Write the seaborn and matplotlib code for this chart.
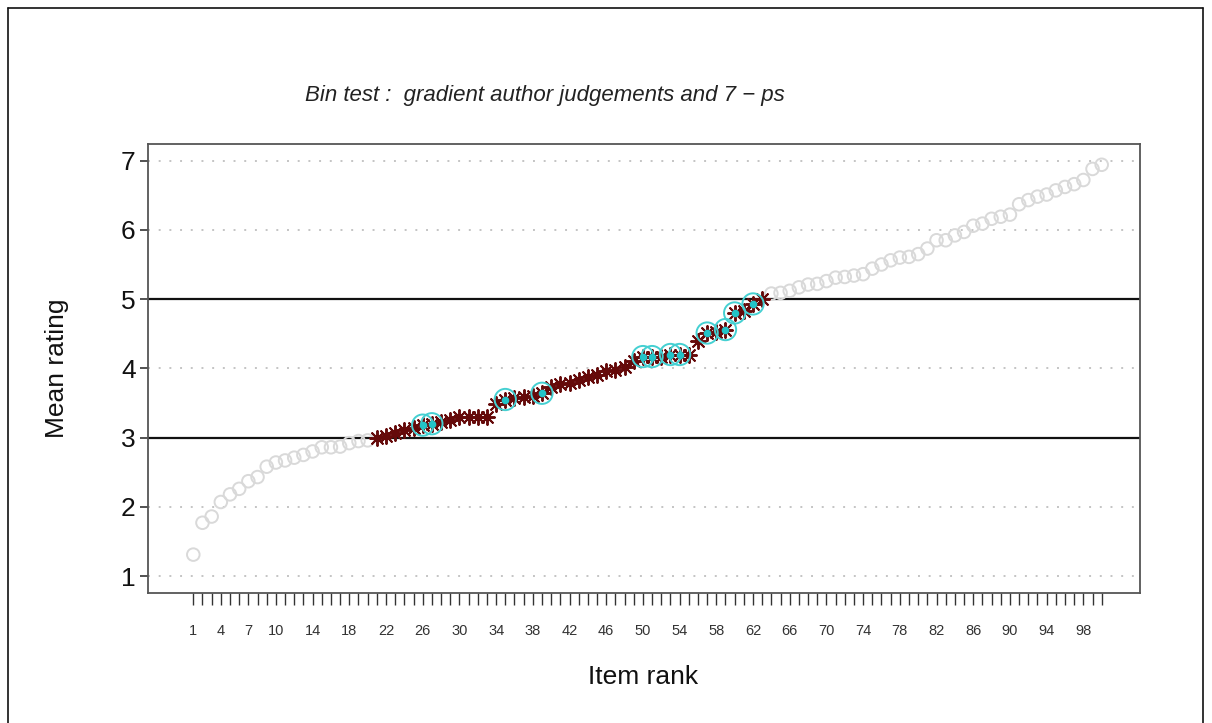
import numpy as np
import pandas as pd
import matplotlib
matplotlib.use("Agg")
import matplotlib.pyplot as plt
from matplotlib.lines import Line2D
import seaborn as sns

# Item ranks and their mean ratings (sorted ascending)
ranks = list(range(1, 101))
mean_ratings = [
    1.31, 1.77, 1.86, 2.07, 2.18, 2.26, 2.37, 2.43, 2.58, 2.64,
    2.67, 2.71, 2.75, 2.80, 2.86, 2.86, 2.87, 2.92, 2.95, 2.96,
    3.00, 3.03, 3.07, 3.11, 3.14, 3.18, 3.20, 3.22, 3.26, 3.30,
    3.30, 3.30, 3.30, 3.49, 3.55, 3.57, 3.58, 3.60, 3.64, 3.73,
    3.78, 3.79, 3.83, 3.87, 3.90, 3.96, 3.97, 4.02, 4.10, 4.17,
    4.17, 4.17, 4.20, 4.20, 4.20, 4.39, 4.51, 4.52, 4.56, 4.80,
    4.83, 4.93, 5.00, 5.08, 5.09, 5.12, 5.17, 5.21, 5.22, 5.26,
    5.31, 5.32, 5.34, 5.36, 5.44, 5.50, 5.56, 5.60, 5.61, 5.65,
    5.73, 5.85, 5.85, 5.92, 5.97, 6.06, 6.09, 6.16, 6.19, 6.22,
    6.37, 6.43, 6.48, 6.51, 6.57, 6.62, 6.66, 6.72, 6.88, 6.94,
]
bin_low = 3
bin_high = 5
selected_ranks = [26, 27, 35, 39, 50, 51, 53, 54, 57, 59, 60, 62]
x_tick_labels = [1, 4, 7, 10] + list(range(14, 99, 4))
y_ticks = [1, 2, 3, 4, 5, 6, 7]
dotted_levels = [1, 2, 4, 6, 7]

df = pd.DataFrame({"rank": ranks, "rating": mean_ratings})
in_bin = (df["rating"] >= bin_low) & (df["rating"] <= bin_high)
outside = df[~in_bin]
inside = df[in_bin]
chosen = df[df["rank"].isin(selected_ranks)]

sns.set_theme(style="white")
plt.rcParams["font.family"] = ["Liberation Sans", "DejaVu Sans"]

W, H = 1212, 723
fig = plt.figure(figsize=(W / 100, H / 100), dpi=100)
ax_bottom, ax_top = 592.7, 144
ax = fig.add_axes([148 / W, 1 - ax_bottom / H, (1140 - 148) / W, (ax_bottom - ax_top) / H])

# dotted reference levels and solid bin boundaries
for lv in dotted_levels:
    ax.axhline(lv, color="#c4c4c4", lw=1.4, ls=(0, (1, 4.5)), zorder=1)
for lv in (bin_low, bin_high):
    ax.axhline(lv, color="#111111", lw=1.6, zorder=2)

# items outside the bin
sns.scatterplot(data=outside, x="rank", y="rating", ax=ax, marker="o",
                s=82, facecolor="none", edgecolor="#d9d9d9", linewidth=1.4,
                zorder=3, legend=False)
# items inside the bin
sns.scatterplot(data=inside, x="rank", y="rating", ax=ax, marker=(8, 2, 0),
                s=115, color="#650a0a", linewidth=1.4, zorder=4, legend=False)
# selected items
sns.scatterplot(data=chosen, x="rank", y="rating", ax=ax, marker="o",
                s=235, facecolor="none", edgecolor="#45d0d2", linewidth=1.4,
                zorder=5, legend=False)
sns.scatterplot(data=chosen, x="rank", y="rating", ax=ax, marker="o",
                s=30, color="#22c4c8", linewidth=0, zorder=6, legend=False)

px_per_item = (1101.7 - 193.3) / 99
ax.set_xlim(1 - (193.3 - 148) / px_per_item, 100 + (1140 - 1101.7) / px_per_item)
ax.set_ylim(0.76, 7.24)

ax.set_xticks(ranks)
ax.set_xticklabels([str(r) if r in x_tick_labels else "" for r in ranks])
ax.set_yticks(y_ticks)
ax.set_yticklabels([str(v) for v in y_ticks])
ax.tick_params(axis="x", length=8.5, width=1.0, color="#333333", pad=14,
               labelsize=10.5, labelcolor="#333333", direction="out", bottom=True)
ax.tick_params(axis="y", length=6, width=1.2, color="#333333", pad=3,
               labelsize=19, labelcolor="#111111", direction="out", left=True)

for side, sp in ax.spines.items():
    sp.set_color("#555555")
    sp.set_linewidth(1.3)
    sp.set_visible(True)

ax.set_xlabel("Item rank", fontsize=19, color="#111111")
ax.set_ylabel("Mean rating", fontsize=19, color="#111111")
ax_w = 1140 - 148
ax_h = ax_bottom - ax_top
ax.xaxis.set_label_coords((643 - 148) / ax_w, (ax_bottom - 677) / ax_h)
ax.yaxis.set_label_coords((57 - 148) / ax_w, (ax_bottom - 368) / ax_h)
ax.xaxis.label.set_va("center")
ax.yaxis.label.set_va("center")

fig.text(545 / W, 1 - 95 / H, "Bin test :  gradient author judgements and 7 \u2212 ps",
         ha="center", va="center", fontsize=16, style="italic", color="#222222")

# frame round the whole figure
for xs, ys in [([8 / W, 8 / W], [0, 1 - 8 / H]),
               ([8 / W, 1203 / W], [1 - 8 / H, 1 - 8 / H]),
               ([1203 / W, 1203 / W], [0, 1 - 8 / H])]:
    fig.add_artist(Line2D(xs, ys, color="#111111", lw=1.2, transform=fig.transFigure))

fig.savefig("out.png", dpi=100)
